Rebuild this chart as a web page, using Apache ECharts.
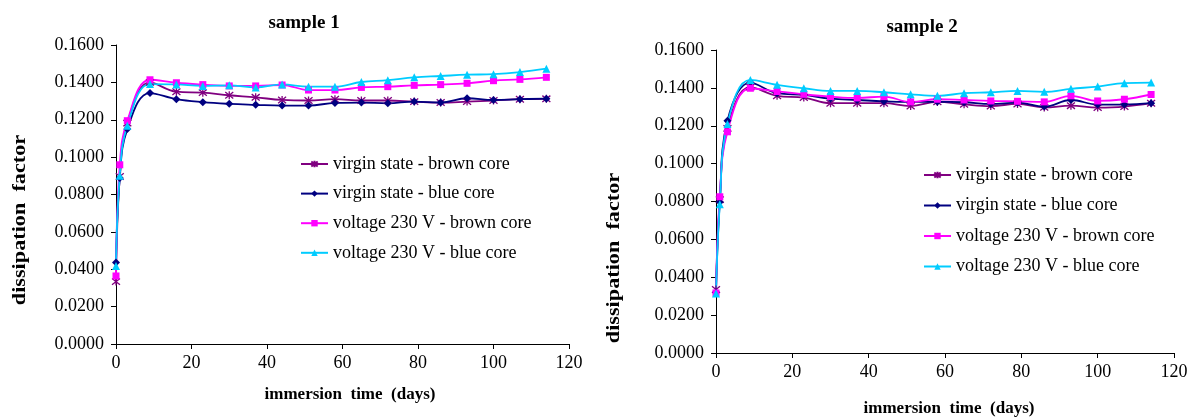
<!DOCTYPE html>
<html>
<head>
<meta charset="utf-8">
<title>dissipation factor</title>
<script src="https://cdn.jsdelivr.net/npm/echarts@6/dist/echarts.min.js"></script>
<style>
    html, body { margin: 0; padding: 0; background: #fff; }
    #chart { width: 1198px; height: 419px; }
</style>
</head>
<body>
<div id="chart"></div>
<script>
// immersion time (days)
const days = [0, 1, 3, 9, 16, 23, 30, 37, 44, 51, 58, 65, 72, 79, 86, 93, 100, 107, 114];

// sample 1
const virginBrown1 = [0.0334, 0.0896, 0.1182, 0.1400, 0.1350, 0.1345, 0.1331, 0.1320, 0.1306, 0.1303, 0.1310, 0.1303, 0.1303, 0.1297, 0.1292, 0.1297, 0.1303, 0.1310, 0.1312];
const virginBlue1 = [0.0436, 0.0888, 0.1150, 0.1343, 0.1310, 0.1294, 0.1285, 0.1280, 0.1276, 0.1276, 0.1290, 0.1292, 0.1288, 0.1297, 0.1292, 0.1315, 0.1306, 0.1310, 0.1313];
const voltBrown1 = [0.0364, 0.0959, 0.1195, 0.1414, 0.1398, 0.1388, 0.1381, 0.1381, 0.1386, 0.1359, 0.1359, 0.1373, 0.1377, 0.1384, 0.1388, 0.1395, 0.1409, 0.1416, 0.1427];
const voltBlue1 = [0.0418, 0.0900, 0.1168, 0.1391, 0.1389, 0.1381, 0.1384, 0.1373, 0.1389, 0.1377, 0.1377, 0.1402, 0.1412, 0.1427, 0.1434, 0.1441, 0.1444, 0.1455, 0.1473];

// sample 2
const virginBrown2 = [0.0335, 0.0810, 0.1186, 0.1404, 0.1358, 0.1349, 0.1319, 0.1319, 0.1319, 0.1304, 0.1326, 0.1313, 0.1304, 0.1315, 0.1297, 0.1306, 0.1296, 0.1301, 0.1319];
const virginBlue2 = [0.0320, 0.0798, 0.1226, 0.1428, 0.1372, 0.1363, 0.1343, 0.1336, 0.1329, 0.1326, 0.1327, 0.1324, 0.1315, 0.1322, 0.1301, 0.1336, 0.1312, 0.1312, 0.1319];
const voltBrown2 = [0.0317, 0.0825, 0.1168, 0.1398, 0.1381, 0.1366, 0.1354, 0.1347, 0.1354, 0.1326, 0.1340, 0.1336, 0.1331, 0.1329, 0.1326, 0.1358, 0.1331, 0.1340, 0.1365];
const voltBlue2 = [0.0314, 0.0786, 0.1209, 0.1442, 0.1416, 0.1398, 0.1384, 0.1384, 0.1377, 0.1366, 0.1358, 0.1372, 0.1377, 0.1384, 0.1379, 0.1395, 0.1407, 0.1425, 0.1428];

const seriesNames = ['virgin state - brown core', 'virgin state - blue core', 'voltage 230 V - brown core', 'voltage 230 V - blue core'];
const colors = ['#800080', '#000080', '#ff00ff', '#00ccff'];
const star = 'path://M-4,-4L4,4M-4,4L4,-4M0,-5L0,5';
const symbols = [star, 'diamond', 'rect', 'triangle'];
const symbolSizes = [8, 8, 7, 8];

const font = 'Liberation Serif';

const chart = echarts.init(document.getElementById('chart'));

function pairs (vals) {
    return days.map((d, i) => [d, vals[i]]);
}

function makeSeries (idx, sets) {
    return sets.map((vals, i) => ({
        name: seriesNames[i],
        type: 'line',
        xAxisIndex: idx,
        yAxisIndex: idx,
        data: pairs(vals),
        smooth: 0.4,
        symbol: symbols[i],
        symbolSize: symbolSizes[i],
        color: colors[i],
        lineStyle: { width: 1.8, color: colors[i] },
        itemStyle: i === 0
            ? { color: colors[i], borderColor: colors[i], borderWidth: 1.3 }
            : { color: colors[i], borderWidth: 0 },
        animation: false
    }));
}

function xAxis (idx) {
    return {
        type: 'value',
        gridIndex: idx,
        min: 0,
        max: 120,
        interval: 20,
        axisLine: { lineStyle: { color: '#000', width: 1 } },
        axisTick: { length: 5, lineStyle: { color: '#000' } },
        axisLabel: { color: '#000', fontFamily: font, fontSize: 18, margin: 10 },
        splitLine: { show: false }
    };
}

function yAxis (idx) {
    return {
        type: 'value',
        gridIndex: idx,
        min: 0,
        max: 0.16,
        interval: 0.02,
        axisLine: { show: true, lineStyle: { color: '#000', width: 1 } },
        axisTick: { show: true, length: 5, lineStyle: { color: '#000' } },
        axisLabel: {
            color: '#000', fontFamily: font, fontSize: 18, margin: 12,
            formatter: function (v) { return v.toFixed(4); }
        },
        splitLine: { show: false }
    };
}

function legend (left, top, gap) {
    return {
        orient: 'vertical',
        left: left,
        top: top,
        itemWidth: 27,
        itemHeight: 8,
        itemGap: gap,
        data: seriesNames,
        textStyle: { color: '#000', fontFamily: font, fontSize: 18, lineHeight: 18 }
    };
}

function label (text, x, y, size, rotate, stretch) {
    return {
        type: 'text',
        x: x,
        y: y,
        rotation: rotate ? Math.PI / 2 : 0,
        scaleX: stretch || 1,
        style: {
            text: text,
            font: 'bold ' + size + 'px "' + font + '"',
            fill: '#000',
            textAlign: 'center',
            textVerticalAlign: 'middle'
        }
    };
}

const option = {
    backgroundColor: '#fff',
    grid: [
        { left: 116, top: 45, width: 453, height: 299 },
        { left: 716, top: 50, width: 458, height: 303 }
    ],
    xAxis: [xAxis(0), xAxis(1)],
    yAxis: [yAxis(0), yAxis(1)],
    legend: [legend(295, 150, 11.6), legend(918, 161, 12.5)],
    graphic: [
        label('sample 1', 304, 23, 19),
        label('sample 2', 922, 27, 19),
        label('dissipation  factor', 20, 220, 19, true, 1.17),
        label('dissipation  factor', 614, 258, 19, true, 1.17),
        label('immersion  time  (days)', 350, 395, 17),
        label('immersion  time  (days)', 949, 409, 17)
    ],
    series: makeSeries(0, [virginBrown1, virginBlue1, voltBrown1, voltBlue1])
        .concat(makeSeries(1, [virginBrown2, virginBlue2, voltBrown2, voltBlue2]))
};

chart.setOption(option);
</script>
</body>
</html>
